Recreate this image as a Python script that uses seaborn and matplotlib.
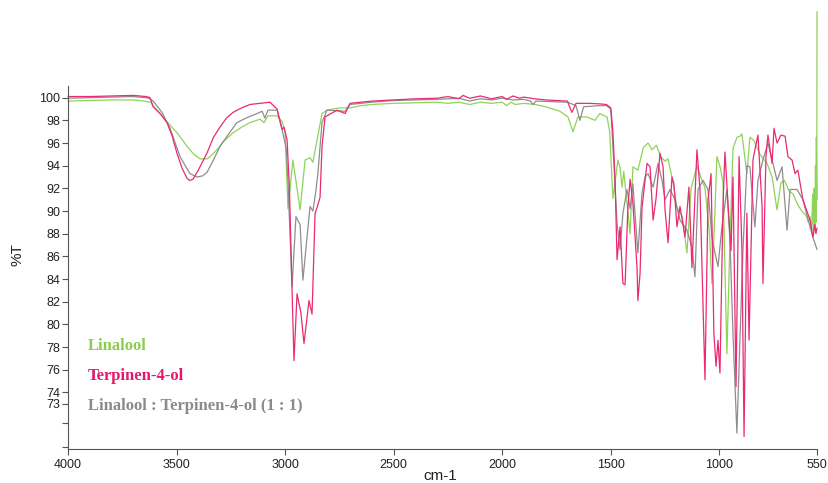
import numpy as np
import pandas as pd
import matplotlib
matplotlib.use("Agg")
import matplotlib.pyplot as plt
import seaborn as sns

# ---- data (wavenumber cm-1, %T) ----
lin_wn = [4000, 3900, 3800, 3700, 3650, 3620, 3608, 3576, 3540, 3498, 3470, 3452, 3420, 3392,
          3360, 3340, 3314, 3280, 3240, 3200,
          3162, 3116, 3097, 3079, 3037, 3014, 3000, 2987, 2964, 2931, 2908, 2885, 2872, 2830,
          2807, 2750, 2700, 2650, 2600, 2500, 2400, 2300, 2250, 2200, 2150, 2100, 2050, 2000,
          1980, 1960, 1940, 1900, 1850, 1800, 1734, 1697, 1674, 1651, 1610, 1573, 1550, 1530,
          1517, 1505, 1490, 1467, 1457, 1448, 1440, 1411, 1398, 1375, 1365, 1350, 1328, 1310,
          1290, 1270, 1250, 1236, 1213, 1195, 1170, 1149, 1130, 1103, 1085, 1066, 1045, 1034,
          1020, 1011, 995, 983, 965, 950, 937, 919, 905, 896, 873, 859, 840, 813, 780, 757,
          734, 716, 700, 680, 660, 640, 620, 600, 590, 582, 575, 570, 566, 563, 560, 557,
          555, 553, 551, 550]
lin_t = [99.7, 99.75, 99.8, 99.8, 99.7, 99.6, 99.3, 98.6, 97.8, 96.9, 96.2, 95.7, 95.0, 94.6,
         94.6, 94.9, 95.4, 96.2, 96.9, 97.4,
         97.8, 98.1, 97.8, 98.4, 98.4, 97.9, 97.0, 90.2, 94.5, 90.1, 94.5, 94.7, 94.3, 98.6,
         98.9, 99.1, 99.1, 99.3, 99.4, 99.5, 99.55, 99.6, 99.5, 99.6, 99.4, 99.6, 99.5, 99.6,
         99.3, 99.6, 99.4, 99.5, 99.4, 99.2, 98.8, 98.3, 97.0, 98.3, 98.3, 98.0, 98.6, 98.4,
         98.3, 97.0, 91.1, 94.5, 93.8, 92.1, 93.5, 88.0, 93.9, 93.6, 94.4, 95.6, 96.0, 95.4,
         95.8, 94.8, 94.4, 94.6, 92.5, 90.3, 89.5, 86.3, 92.0, 94.0, 93.0, 92.0, 88.0, 83.6,
         90.0, 94.8, 93.8, 92.5, 77.4, 88.0, 95.5, 96.5, 96.6, 96.8, 93.3, 96.5, 96.2, 95.0,
         94.2, 93.0, 90.1, 92.5, 92.7, 91.8, 91.5, 90.6, 90.0, 89.6, 89.0, 89.5, 88.2, 91.5,
         87.8, 92.0, 88.5, 94.0, 89.0, 96.5, 91.0, 107.6]

ter_wn = [4000, 3900, 3800, 3700, 3640, 3622, 3608, 3576, 3544, 3520, 3498, 3475, 3452, 3440,
          3424, 3400, 3360, 3330, 3300, 3270,
          3240, 3200, 3162, 3070, 3037, 3014, 3005, 2991, 2980, 2968, 2959, 2945, 2927, 2913, 2890,
          2876, 2862, 2853, 2839, 2830, 2816, 2761, 2724, 2701, 2600, 2500, 2400, 2300, 2250,
          2200, 2180, 2150, 2100, 2050, 2000, 1980, 1950, 1920, 1900, 1850, 1800, 1700, 1679,
          1660, 1600, 1550, 1520, 1500, 1490, 1480, 1471, 1457, 1444, 1434, 1421, 1411, 1398,
          1379, 1375, 1365, 1356, 1333, 1319, 1305, 1292, 1273, 1259, 1250, 1236, 1218, 1209,
          1195, 1181, 1158, 1140, 1126, 1103, 1089, 1066, 1052, 1038, 1025, 1015, 1006, 997,
          983, 974, 960, 946, 937, 923, 909, 896, 886, 873, 863, 845, 836, 822, 803, 799,
          785, 776, 757, 748, 734, 716, 697, 684, 665, 651, 638, 615, 582, 569, 560, 555, 550]
ter_t = [100.1, 100.1, 100.15, 100.2, 100.1, 100.0, 99.2, 98.6, 97.8, 96.6, 95.1, 93.8, 92.9, 92.7,
         92.8, 93.6, 95.1, 96.5, 97.4, 98.2,
         98.7, 99.1, 99.4, 99.6, 99.0, 97.2, 97.4, 96.3, 92.0, 83.0, 76.8, 82.7, 81.0, 78.3, 82.1,
         80.9, 89.8, 90.3, 91.2, 95.7, 98.3, 98.9, 98.6, 99.5, 99.7, 99.8, 99.9, 99.95, 100.1,
         99.9, 100.2, 99.95, 100.15, 99.9, 100.1, 99.85, 100.15, 99.95, 100.05, 99.9, 99.8, 99.7, 98.7,
         99.5, 99.5, 99.45, 99.4, 99.1, 97.0, 92.7, 85.7, 88.6, 83.6, 83.5, 90.3, 92.8, 90.7,
         85.0, 82.1, 84.5, 90.3, 94.2, 93.9, 89.2, 91.0, 95.1, 93.9, 90.1, 87.2, 93.0, 92.4,
         88.6, 90.4, 87.7, 92.1, 85.0, 95.4, 91.9, 75.1, 91.0, 93.3, 79.2, 76.3, 78.6, 75.7,
         90.5, 95.2, 90.7, 86.5, 93.0, 74.5, 94.8, 86.8, 70.1, 89.8, 78.6, 94.5, 95.4, 96.7, 90.4, 83.6,
         94.8, 96.7, 94.2, 97.3, 96.0, 96.7, 96.6, 94.8, 94.5, 93.3, 93.6, 91.0, 89.2, 87.7, 88.8, 88.0, 88.5]

mix_wn = [4000, 3900, 3800, 3700, 3640, 3622, 3608, 3567, 3530, 3510, 3484, 3460, 3438, 3406,
          3380, 3360, 3330, 3300, 3260, 3222, 3180,
          3129, 3106, 3093, 3079, 3037, 3014, 2995, 2987, 2968, 2950, 2931, 2918, 2899,
          2885, 2872, 2858, 2849, 2830, 2807, 2724, 2701, 2600, 2500, 2400, 2300, 2200, 2150,
          2100, 2050, 2000, 1950, 1900, 1870, 1858, 1845, 1700, 1660, 1642, 1625, 1550, 1520,
          1500, 1490, 1471, 1457, 1444, 1425, 1411, 1398, 1375, 1356, 1342, 1328, 1305, 1282,
          1264, 1250, 1227, 1204, 1181, 1149, 1126, 1112, 1098, 1075, 1052, 1034, 1020, 1006,
          988, 965, 951, 937, 919, 905, 891, 873, 859, 836, 822, 799, 776, 757, 734, 711,
          688, 674, 642, 615, 582, 569, 550]
mix_t = [99.95, 100.0, 100.05, 100.1, 100.0, 99.9, 99.7, 98.7, 97.3, 96.2, 94.8, 94.0, 93.3, 93.0,
         93.1, 93.4, 94.5, 95.7, 96.8, 97.8, 98.2,
         98.6, 98.8, 98.2, 98.9, 98.9, 97.2, 95.5, 92.7, 83.3, 89.5, 88.8, 83.9, 87.7,
         90.4, 90.0, 91.8, 93.3, 97.8, 98.9, 98.8, 99.4, 99.6, 99.75, 99.8, 99.85, 99.95, 99.7,
         99.9, 99.8, 99.95, 99.8, 99.85, 99.7, 99.4, 99.7, 99.6, 99.3, 98.0, 99.2, 99.3, 99.3,
         99.0, 95.7, 88.9, 86.6, 89.8, 91.9, 90.2, 92.4, 86.3, 91.6, 93.0, 93.3, 92.1, 94.2,
         92.7, 91.0, 91.9, 91.0, 89.2, 88.3, 86.8, 84.2, 91.9, 92.7, 91.9, 87.7, 86.3, 85.1,
         88.6, 91.9, 87.4, 79.2, 70.4, 78.6, 86.6, 94.0, 93.9, 88.6, 92.7, 94.5, 96.0, 94.5, 92.7, 93.9,
         88.3, 91.9, 91.9, 91.0, 88.6, 87.7, 86.6]

series_names = ["Linalool", "Linalool : Terpinen-4-ol (1 : 1)", "Terpinen-4-ol"]
colors = {"Linalool": "#8fd35a",
          "Linalool : Terpinen-4-ol (1 : 1)": "#8e8e8e",
          "Terpinen-4-ol": "#ea2a72"}
text_colors = {"Linalool": "#8ccc4e",
               "Terpinen-4-ol": "#e8156a",
               "Linalool : Terpinen-4-ol (1 : 1)": "#8a8a8a"}

x_ticks = [4000, 3500, 3000, 2500, 2000, 1500, 1000, 550]
y_ticks = [100, 98, 96, 94, 92, 90, 88, 86, 84, 82, 80, 78, 76, 74, 73, 71.3, 69.2]
y_labels = ["100", "98", "96", "94", "92", "90", "88", "86", "84", "82", "80", "78", "76",
            "74", "73", "", ""]

df = pd.concat([
    pd.DataFrame({"wn": lin_wn, "T": lin_t, "sample": series_names[0]}),
    pd.DataFrame({"wn": mix_wn, "T": mix_t, "sample": series_names[1]}),
    pd.DataFrame({"wn": ter_wn, "T": ter_t, "sample": series_names[2]}),
], ignore_index=True)

sns.set_style("white")
plt.rcParams["font.family"] = ["Liberation Sans", "DejaVu Sans"]

fig = plt.figure(figsize=(8.29, 4.83), dpi=100)
ax = fig.add_axes([68 / 829, 34 / 483, 749 / 829, 363 / 483])

sns.lineplot(data=df, x="wn", y="T", hue="sample", hue_order=series_names,
             palette=colors, estimator=None, sort=False, legend=False,
             linewidth=0.9, ax=ax)
for ln in ax.lines:
    ln.set_clip_on(False)

ax.set_xlim(4000, 550)
ax.set_ylim(69.0, 101.03)
ax.set_xticks(x_ticks)
ax.set_xticklabels([str(t) for t in x_ticks], fontsize=9, color="#222222")
ax.set_yticks(y_ticks)
ax.set_yticklabels(y_labels, fontsize=9, color="#222222")
ax.tick_params(axis="both", which="major", direction="out", length=4, width=0.8,
               color="#555555", left=True, bottom=True)
ax.tick_params(axis="y", pad=1.5)
ax.tick_params(axis="x", pad=3)
for s in ["top", "right"]:
    ax.spines[s].set_visible(False)
for s in ["left", "bottom"]:
    ax.spines[s].set_color("#555555")
    ax.spines[s].set_linewidth(0.8)
ax.set_xlabel("")
ax.set_ylabel("")

fig.text(18 / 829, 1 - 255 / 483, "%T", rotation=90, ha="center", va="center",
         fontsize=11, color="#222222")
fig.text(440 / 829, 1 - 476 / 483, "cm-1", ha="center", va="center",
         fontsize=11, color="#222222")

baselines = [350, 379.5, 410]
for name, yb in zip(["Linalool", "Terpinen-4-ol", "Linalool : Terpinen-4-ol (1 : 1)"], baselines):
    fig.text(88 / 829, 1 - yb / 483, name, ha="left", va="baseline",
             fontsize=12, fontweight="bold", color=text_colors[name],
             family=["Liberation Serif", "DejaVu Serif"])

fig.savefig("out.png", dpi=100)
